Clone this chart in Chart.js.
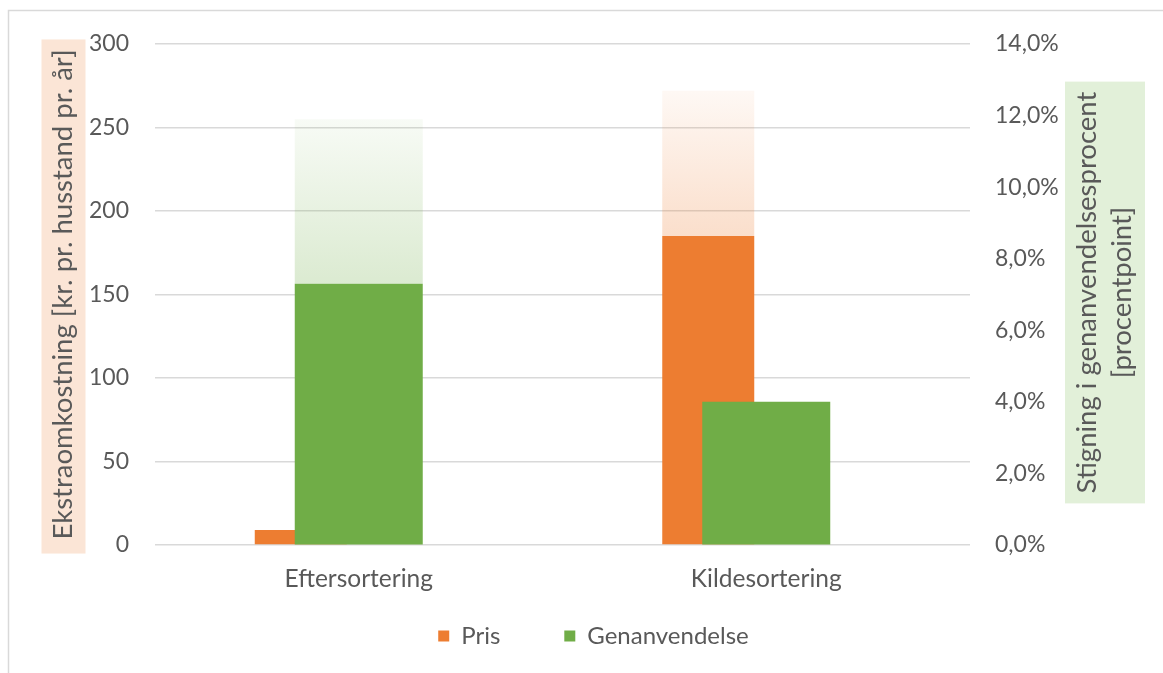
<!DOCTYPE html>
<html>
<head>
<meta charset="utf-8">
<script src="https://cdn.jsdelivr.net/npm/chart.js@4.4.1/dist/chart.umd.min.js"></script>
<style>
  html, body { margin: 0; padding: 0; background: #ffffff; overflow: hidden; }
  #wrap { position: relative; width: 1163px; height: 673px; }
</style>
</head>
<body>
<div id="wrap"><canvas id="c"></canvas></div>
<script>
// ---- data ----
const categories = ['Eftersortering', 'Kildesortering'];
const prisValues = [9, 185];          // kr. pr. husstand pr. år (left axis)
const prisUpper = [null, 272];        // top of the faded Pris range
const genanvValues = [7.3, 4.0];      // procentpoint (right axis)
const genanvUpper = [11.9, null];     // top of the faded Genanvendelse range
const leftAxisMax = 300, leftAxisStep = 50;
const rightAxisMax = 14, rightAxisStep = 2;
const seriesLabels = ['Pris', 'Genanvendelse'];
const leftTitle = 'Ekstraomkostning [kr. pr. husstand pr. år]';
const rightTitle = ['Stigning i genanvendelsesprocent', '[procentpoint]'];

// ---- styling ----
const ORANGE = '#ED7D31', GREEN = '#70AD47', TEXT = '#595959', GRID = '#d9d9d9';
const FONT = 'Lato';
const TITLE_SIZE = 27.5;
const LEGEND_SIZE = 24;
Chart.defaults.font.family = FONT;
Chart.defaults.font.size = 23;
Chart.defaults.color = TEXT;

const diff = (hi, lo) => hi.map((h, i) => (h == null ? null : h - lo[i]));

function rangeFill(rgb, base, upper, axisId) {
  return (ctx) => {
    if (ctx.type !== 'data') return `rgba(${rgb},0.2)`;
    const i = ctx.dataIndex;
    if (upper[i] == null) return 'rgba(0,0,0,0)';
    const sc = ctx.chart.scales[axisId];
    if (!sc) return `rgba(${rgb},0.15)`;
    const y0 = sc.getPixelForValue(base[i]);
    const y1 = sc.getPixelForValue(upper[i]);
    if (!isFinite(y0) || !isFinite(y1)) return `rgba(${rgb},0.15)`;
    const g = ctx.chart.ctx.createLinearGradient(0, y0, 0, y1);
    g.addColorStop(0, `rgba(${rgb},0.25)`);
    g.addColorStop(1, `rgba(${rgb},0.05)`);
    return g;
  };
}

const LEFT_TITLE_PAD = 23;
const LEGEND_PAD = 64;

const decor = {
  id: 'decor',
  afterLayout(chart) {
    // place the legend row so its text centre sits 91px below the plot area
    const lg = chart.legend;
    if (lg) {
      lg.top = chart.chartArea.bottom + 91 - LEGEND_SIZE / 2 - LEGEND_PAD;
      lg.bottom = chart.height;
      lg.height = lg.bottom - lg.top;
    }
  },
  beforeDraw(chart) {
    const c = chart.ctx;
    const W = chart.width, H = chart.height;
    c.save();
    c.fillStyle = '#ffffff';
    c.fillRect(0, 0, W, H);
    // outer frame
    c.strokeStyle = GRID;
    c.lineWidth = 1.5;
    c.strokeRect(8.5, 10.5, W + 60, H + 60);
    const area = chart.chartArea;
    const midY = (area.top + area.bottom) / 2;
    // left title background
    const ys = chart.scales.y;
    const f = Chart.helpers.toFont(ys.options.title.font);
    c.font = f.string;
    const wl = c.measureText(leftTitle).width;
    const cxl = ys.left + LEFT_TITLE_PAD + f.lineHeight / 2;
    c.fillStyle = '#FBE5D6';
    c.fillRect(cxl - 22, midY - wl / 2 - 10, 44, wl + 24);
    // right title background + text
    const y2 = chart.scales.y2;
    const lines = y2.options.title.text;
    const w1 = Math.max(...lines.map(t => c.measureText(t).width));
    const cxr = y2.right - 58;
    const cyr = midY - 2;
    c.fillStyle = '#E2F0D9';
    c.fillRect(cxr - 40, cyr - w1 / 2 - 10, 80, w1 + 20);
    c.translate(cxr, cyr);
    c.rotate(-Math.PI / 2);
    c.fillStyle = TEXT;
    c.textAlign = 'center';
    c.textBaseline = 'middle';
    const gap = 35;
    lines.forEach((t, k) => {
      c.fillText(t, 0, (k - (lines.length - 1) / 2) * gap - 0.5);
    });
    c.restore();
  }
};

new Chart(document.getElementById('c'), {
  type: 'bar',
  data: {
    labels: categories,
    datasets: [
      {
        label: seriesLabels[0],
        data: prisValues,
        yAxisID: 'y',
        stack: 'pris',
        order: 2,
        backgroundColor: ORANGE,
        borderWidth: 0,
        categoryPercentage: 0.5693,
        barPercentage: 0.7931
      },
      {
        label: seriesLabels[1],
        data: genanvValues,
        yAxisID: 'y2',
        stack: 'gen',
        order: 0,
        grouped: false,
        backgroundColor: GREEN,
        borderWidth: 0,
        categoryPercentage: 1,
        barPercentage: 0.3141
      },
      {
        label: 'Pris-interval',
        data: diff(prisUpper, prisValues),
        yAxisID: 'y',
        stack: 'pris',
        order: 3,
        backgroundColor: rangeFill('237,125,49', prisValues, prisUpper, 'y'),
        borderWidth: 0,
        categoryPercentage: 0.5693,
        barPercentage: 0.7931
      },
      {
        label: 'Genanvendelse-interval',
        data: diff(genanvUpper, genanvValues),
        yAxisID: 'y2',
        stack: 'gen',
        order: 1,
        grouped: false,
        backgroundColor: rangeFill('112,173,71', genanvValues, genanvUpper, 'y2'),
        borderWidth: 0,
        categoryPercentage: 1,
        barPercentage: 0.3141
      },
      {
        label: 'slot',
        data: categories.map(() => null),
        yAxisID: 'y',
        stack: 'slot',
        order: 4,
        backgroundColor: 'rgba(0,0,0,0)',
        borderWidth: 0,
        categoryPercentage: 0.5693,
        barPercentage: 0.7931
      }
    ]
  },
  options: {
    responsive: true,
    maintainAspectRatio: false,
    animation: false,
    layout: { padding: { left: 24, right: 0, top: 44, bottom: 36 } },
    plugins: {
      tooltip: { enabled: false },
      legend: {
        position: 'bottom',
        maxHeight: 40,
        labels: {
          boxWidth: 11,
          boxHeight: 11,
          padding: LEGEND_PAD,
          color: TEXT,
          font: { family: FONT, size: LEGEND_SIZE },
          filter: (item) => item.datasetIndex < 2,
          sort: (a, b) => a.datasetIndex - b.datasetIndex
        }
      }
    },
    scales: {
      x: {
        type: 'category',
        offset: true,
        grid: { display: false, drawTicks: false },
        border: { display: false },
        ticks: { padding: 19, color: TEXT, font: { size: 24.5 } },
        afterFit: (s) => { s.height = 52; }
      },
      y: {
        position: 'left',
        min: 0,
        max: leftAxisMax,
        ticks: { stepSize: leftAxisStep, padding: 26, color: TEXT, font: { size: 23 } },
        grid: { color: GRID, lineWidth: 1.5, drawTicks: false },
        border: { display: false },
        title: {
          display: true,
          text: leftTitle,
          color: TEXT,
          font: { size: TITLE_SIZE },
          padding: { top: LEFT_TITLE_PAD, bottom: 0 }
        },
        afterFit: (s) => { s.width = 131; }
      },
      y2: {
        position: 'right',
        min: 0,
        max: rightAxisMax,
        ticks: {
          stepSize: rightAxisStep,
          padding: 25,
          color: TEXT,
          font: { size: 23 },
          callback: (v) => Number(v).toFixed(1).replace('.', ',') + '%'
        },
        grid: { drawOnChartArea: false, drawTicks: false },
        border: { display: false },
        title: { display: false, text: rightTitle, font: { size: TITLE_SIZE } },
        afterFit: (s) => { s.width = 193; }
      }
    }
  },
  plugins: [decor]
});
</script>
</body>
</html>
